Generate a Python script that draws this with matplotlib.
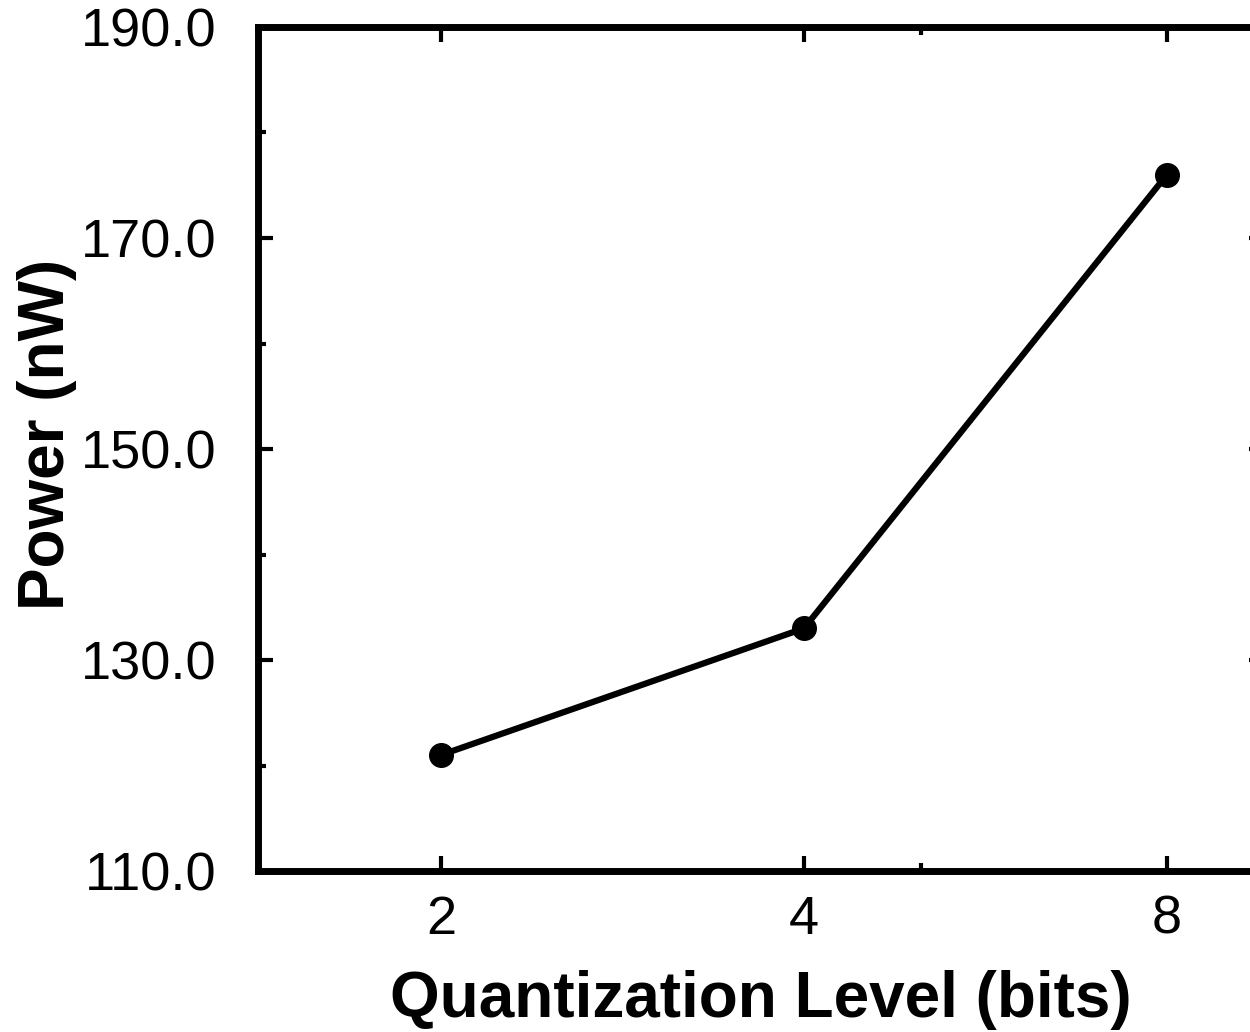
import matplotlib
matplotlib.use("Agg")
import matplotlib.pyplot as plt
from matplotlib.ticker import FixedLocator, FormatStrFormatter, NullFormatter

# Data
bits = [2, 4, 8]
power_nw = [121, 133, 176]
x_ticks = [2, 4, 8]
x_minor = [5]
y_ticks = [110, 130, 150, 170, 190]
y_minor = [120, 140, 160, 180]

plt.rcParams['font.family'] = ['Liberation Sans', 'DejaVu Sans']

fig = plt.figure(figsize=(12.5, 10.32), dpi=100)
# axes box in pixels: left 258, right 1264, top 27, bottom 871
W, H = 1250, 1032
ax = fig.add_axes([258 / W, 1 - 871 / H, (1264 - 258) / W, (871 - 27) / H])

ax.plot(bits, power_nw, color='black', linewidth=4.5, marker='o',
        markersize=17, solid_capstyle='round')

ax.set_xscale('log', base=2)
ax.set_xlim(1.41, 9.63)
ax.xaxis.set_major_locator(FixedLocator(x_ticks))
ax.xaxis.set_minor_locator(FixedLocator(x_minor))
ax.xaxis.set_major_formatter(FormatStrFormatter('%d'))
ax.xaxis.set_minor_formatter(NullFormatter())

ax.set_ylim(110, 190)
ax.yaxis.set_major_locator(FixedLocator(y_ticks))
ax.yaxis.set_minor_locator(FixedLocator(y_minor))
ax.yaxis.set_major_formatter(FormatStrFormatter('%.1f'))

for s in ax.spines.values():
    s.set_linewidth(5)

ax.tick_params(which='both', direction='in', top=True, right=True,
               labelsize=39, width=3)
ax.tick_params(which='major', length=11)
ax.tick_params(which='minor', length=6)
ax.tick_params(axis='x', which='both', pad=17)
ax.tick_params(axis='y', which='both', pad=30)

ax.set_xlabel('Quantization Level (bits)', fontsize=46, fontweight='bold', labelpad=18)
ax.set_ylabel('Power (nW)', fontsize=46, fontweight='bold')
# label sits a little above the axis middle in the original
ax.yaxis.set_label_coords(-0.18, 0.517)

fig.savefig('out.png', dpi=100)
